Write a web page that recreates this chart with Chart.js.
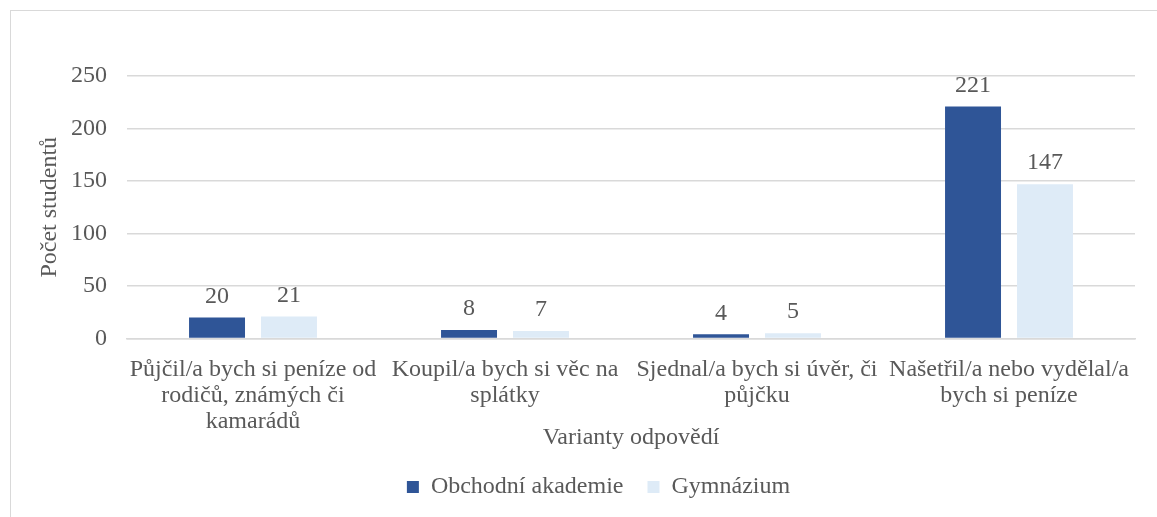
<!DOCTYPE html>
<html><head><meta charset="utf-8">
<script src="https://cdn.jsdelivr.net/npm/chart.js@4"></script>
<style>
html,body{margin:0;padding:0;background:#fff;overflow:hidden;}
#wrap{position:absolute;left:0;top:0;width:1157px;height:517px;}
#frame{position:absolute;left:10px;top:10px;width:1160px;height:520px;border:1.5px solid #d9d9d9;box-sizing:border-box;}
canvas{position:absolute;left:0;top:0;}
</style></head>
<body>
<div id="wrap"><div id="frame"></div><canvas id="c" width="1157" height="517"></canvas></div>
<script>
const categories = [
  ["Půjčil/a bych si peníze od", "rodičů, známých či", "kamarádů"],
  ["Koupil/a bych si věc na", "splátky"],
  ["Sjednal/a bych si úvěr, či", "půjčku"],
  ["Našetřil/a nebo vydělal/a", "bych si peníze"]
];
const seriesNames = ["Obchodní akademie", "Gymnázium"];
const obchodni = [20, 8, 4, 221];
const gymnazium = [21, 7, 5, 147];
const yTicks = [0, 50, 100, 150, 200, 250];

const textColor = '#595959';
const fontFamily = '"Liberation Serif", "Times New Roman", serif';
const FS = 24;

const valueLabels = {
  id: 'valueLabels',
  afterDatasetsDraw(chart) {
    const ctx = chart.ctx;
    ctx.save();
    ctx.fillStyle = textColor;
    ctx.font = FS + 'px ' + fontFamily;
    ctx.textAlign = 'center';
    ctx.textBaseline = 'bottom';
    chart.data.datasets.forEach((ds, i) => {
      const meta = chart.getDatasetMeta(i);
      meta.data.forEach((bar, j) => {
        ctx.fillText(String(ds.data[j]), bar.x, bar.y - 9);
      });
    });
    ctx.restore();
  }
};

const legendShift = {
  id: 'legendShift',
  beforeDraw(chart) {
    const lg = chart.legend;
    if (lg && !lg._shifted) {
      lg.left += 31; lg.right += 31; lg._shifted = true;
    }
  }
};

new Chart(document.getElementById('c'), {
  type: 'bar',
  data: {
    labels: categories,
    datasets: [
      { label: seriesNames[0], data: obchodni, backgroundColor: '#2F5597', categoryPercentage: 0.571, barPercentage: 0.778 },
      { label: seriesNames[1], data: gymnazium, backgroundColor: '#DEEBF7', categoryPercentage: 0.571, barPercentage: 0.778 }
    ]
  },
  options: {
    responsive: false,
    animation: false,
    devicePixelRatio: 1,
    layout: { padding: { top: 76, right: 22, bottom: 8, left: 0 } },
    plugins: {
      legend: {
        position: 'bottom',
        labels: {
          color: textColor,
          font: { family: fontFamily, size: FS },
          boxWidth: 12, boxHeight: 12,
          padding: 24
        }
      },
      tooltip: { enabled: false }
    },
    scales: {
      x: {
        afterFit(scale) { scale.height -= 4; },
        grid: { display: false, drawTicks: false },
        border: { display: true, color: '#d9d9d9', width: 1.5 },
        ticks: {
          color: textColor, font: { family: fontFamily, size: FS, lineHeight: 1.08 },
          maxRotation: 0, autoSkip: false, padding: 18
        },
        title: {
          display: true, text: 'Varianty odpovědí', color: textColor,
          font: { family: fontFamily, size: FS }, padding: { top: -25, bottom: -1 }
        }
      },
      y: {
        min: 0, max: 250,
        afterBuildTicks(scale) { scale.ticks = yTicks.map(v => ({ value: v })); },
        afterFit(scale) { scale.width = 127; },
        grid: { color: '#d9d9d9', lineWidth: 1.5, drawTicks: false },
        border: { display: false },
        ticks: { color: textColor, font: { family: fontFamily, size: FS }, padding: 20 },
        title: {
          display: true, text: 'Počet studentů', color: textColor,
          font: { family: fontFamily, size: FS }, padding: { top: 35, bottom: 0 }
        }
      }
    }
  },
  plugins: [valueLabels, legendShift]
});
</script>
</body></html>
